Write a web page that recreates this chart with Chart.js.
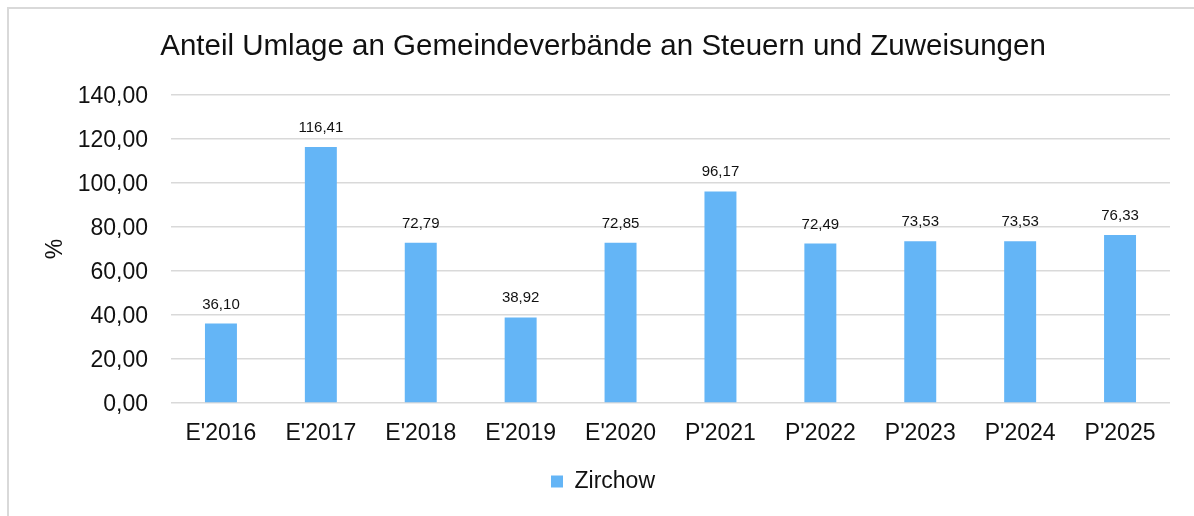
<!DOCTYPE html>
<html lang="de">
<head>
<meta charset="utf-8">
<title>Anteil Umlage an Gemeindeverbände</title>
<script src="https://cdn.jsdelivr.net/npm/chart.js@4/dist/chart.umd.min.js"></script>
<style>
  html, body { margin: 0; padding: 0; background: #fff; }
  #wrap { position: relative; width: 1194px; height: 516px; overflow: hidden; }
  #frame {
    position: absolute; left: 7px; top: 7px; width: 1300px; height: 600px;
    border-left: 2px solid #d9d9d9; border-top: 2px solid #d9d9d9;
  }
  #chart { position: absolute; left: 0; top: 0; }
</style>
</head>
<body>
<div id="wrap">
  <div id="frame"></div>
  <canvas id="chart" width="1194" height="516"></canvas>
</div>
<script>
// Values
const categories = ["E'2016", "E'2017", "E'2018", "E'2019", "E'2020", "P'2021", "P'2022", "P'2023", "P'2024", "P'2025"];
const zirchow = [36.10, 116.41, 72.79, 38.92, 72.85, 96.17, 72.49, 73.53, 73.53, 76.33];
const seriesName = 'Zirchow';
const yTicks = [0, 20, 40, 60, 80, 100, 120, 140];

const FONT = "'Liberation Sans', Arial, Helvetica, sans-serif";
const BAR_COLOR = '#64b5f6';
const TEXT_COLOR = '#111111';

const fmt = v => Number(v).toFixed(2).replace('.', ',');

/** Value labels above each bar */
const barLabels = {
  id: 'barLabels',
  afterDatasetsDraw(chart) {
    const ctx = chart.ctx;
    ctx.save();
    ctx.font = '15px ' + FONT;
    ctx.fillStyle = TEXT_COLOR;
    ctx.textAlign = 'center';
    ctx.textBaseline = 'alphabetic';
    chart.getDatasetMeta(0).data.forEach((bar, i) => {
      ctx.fillText(fmt(zirchow[i]), bar.x, bar.y - 15);
    });
    ctx.restore();
  }
};

new Chart(document.getElementById('chart'), {
  type: 'bar',
  data: {
    labels: categories,
    datasets: [{
      label: seriesName,
      data: zirchow,
      backgroundColor: BAR_COLOR,
      borderWidth: 0,
      categoryPercentage: 0.8,
      barPercentage: 0.4
    }]
  },
  options: {
    responsive: false,
    animation: false,
    layout: { padding: { left: 36, right: 24, top: 0, bottom: 13 } },
    plugins: {
      title: {
        display: true,
        text: 'Anteil Umlage an Gemeindeverbände an Steuern und Zuweisungen',
        color: TEXT_COLOR,
        font: { family: FONT, size: 29.5, weight: 'normal', lineHeight: 1.2 },
        padding: { top: 29, bottom: 30.6 }
      },
      legend: {
        position: 'bottom',
        labels: {
          color: TEXT_COLOR,
          boxWidth: 12,
          boxHeight: 12,
          padding: 10,
          font: { family: FONT, size: 23 }
        }
      },
      tooltip: { enabled: false }
    },
    scales: {
      x: {
        grid: { display: false },
        border: { display: false },
        ticks: {
          color: TEXT_COLOR,
          padding: 9,
          maxRotation: 0,
          font: { family: FONT, size: 23 }
        },
        afterFit(scale) { scale.height = 57; }
      },
      y: {
        min: yTicks[0],
        max: yTicks[yTicks.length - 1],
        afterBuildTicks(scale) { scale.ticks = yTicks.map(v => ({ value: v })); },
        grid: { color: '#d9d9d9', lineWidth: 1.5, drawTicks: false },
        border: { display: false },
        ticks: {
          color: TEXT_COLOR,
          padding: 23,
          labelOffset: 2,
          font: { family: FONT, size: 23 },
          callback: v => fmt(v)
        },
        title: {
          display: true,
          text: '%',
          color: TEXT_COLOR,
          font: { family: FONT, size: 23, lineHeight: 1.2 },
          padding: { top: 6, bottom: 0 }
        },
        afterFit(scale) { scale.width = 135; }
      }
    }
  },
  plugins: [barLabels]
});
</script>
</body>
</html>
